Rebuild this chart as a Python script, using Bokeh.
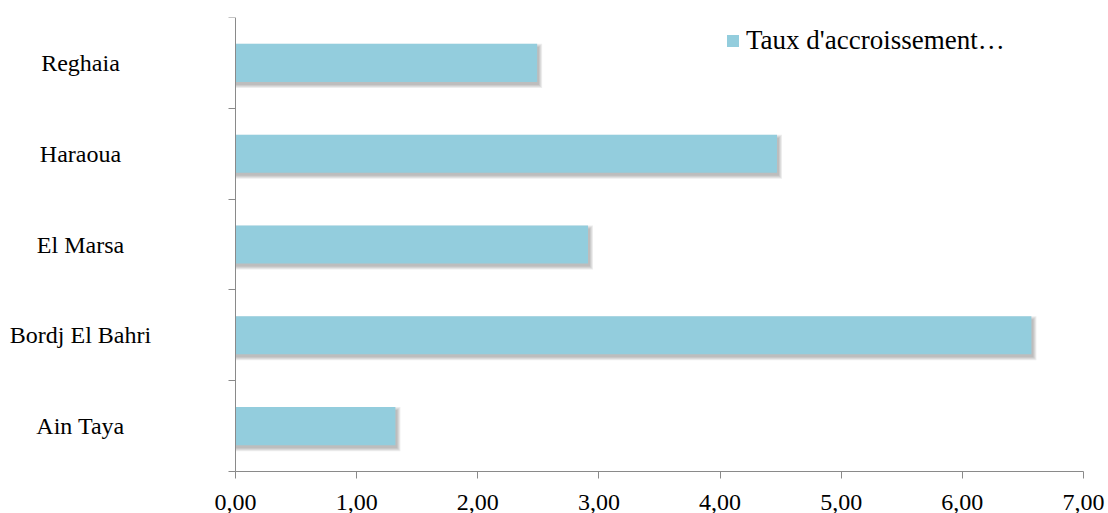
from bokeh.plotting import figure
from bokeh.models import ColumnDataSource, FixedTicker, LinearAxis, Legend, LegendItem, Range1d
from bokeh.transform import dodge
from bokeh.core.properties import value
from bokeh.embed import file_html
from bokeh.resources import INLINE

# Growth rate by commune (bottom to top)
communes = ["Ain Taya", "Bordj El Bahri", "El Marsa", "Haraoua", "Reghaia"]
taux = [1.32, 6.57, 2.91, 4.47, 2.49]
x_ticks = [0, 1, 2, 3, 4, 5, 6, 7]
x_tick_labels = ["0,00", "1,00", "2,00", "3,00", "4,00", "5,00", "6,00", "7,00"]
series_name = "Taux d'accroissement…"

FONT = "Liberation Serif"
AXIS_COLOR = "#8a8a8a"
BAR_COLOR = "#93cddd"
BAR_HEIGHT = 0.42

W, H = 1108, 513
# plot area in pixels: the axes sit inside a frame that fills the canvas,
# leaving room on the left for the centred commune names
AX_LEFT, AX_RIGHT, AX_TOP, AX_BOTTOM = 235, 1083, 17, 471
X_MAX = x_ticks[-1]
n = len(communes)

px = X_MAX / (AX_RIGHT - AX_LEFT)      # data units per pixel, x
py = n / (AX_BOTTOM - AX_TOP)          # data units per pixel, y
x_range = Range1d(-AX_LEFT * px, X_MAX + (W - AX_RIGHT) * px)
y_range = Range1d(-(H - AX_BOTTOM) * py, n)

pos = [i + 0.5 for i in range(n)]
src = ColumnDataSource(dict(commune=communes, taux=taux, pos=pos, zero=[0] * n))

p = figure(width=W, height=H, x_range=x_range, y_range=y_range,
           x_axis_location=None, y_axis_location=None,
           output_backend="svg", toolbar_location=None,
           min_border_left=0, min_border_right=0,
           min_border_top=AX_TOP, min_border_bottom=0)
p.outline_line_color = None
p.grid.visible = False
p.background_fill_color = "white"

# soft drop shadow under each bar
for s in range(1, 5):
    p.hbar(y=dodge("pos", -3 * py, range=p.y_range), left=0,
           right=dodge("taux", (1 + s) * px, range=p.x_range),
           height=BAR_HEIGHT + (2 * s - 2) * py, source=src,
           fill_color="#000000", fill_alpha=0.07, line_color=None)

bars = p.hbar(y="pos", left=0, right="taux", height=BAR_HEIGHT, source=src,
              fill_color=BAR_COLOR, line_color=None)

# x axis along y = 0
xa = LinearAxis(fixed_location=0, bounds=(0, X_MAX))
xa.ticker = FixedTicker(ticks=x_ticks)
xa.major_label_overrides = {t: l for t, l in zip(x_ticks, x_tick_labels)}
xa.axis_line_color = AXIS_COLOR
xa.major_tick_line_color = AXIS_COLOR
xa.major_tick_in = 0
xa.major_tick_out = 7
xa.minor_tick_line_color = None
xa.major_label_text_font = FONT
xa.major_label_text_font_size = "24px"
xa.major_label_text_color = "black"
xa.major_label_standoff = 16
p.add_layout(xa, "below")

# y axis along x = 0: tick marks at band boundaries
ya = LinearAxis(fixed_location=0, bounds=(0, n))
ya.ticker = FixedTicker(ticks=list(range(n + 1)))
ya.major_label_overrides = {t: "" for t in range(n + 1)}
ya.axis_line_color = AXIS_COLOR
ya.major_tick_line_color = AXIS_COLOR
ya.major_tick_in = 0
ya.major_tick_out = 7
ya.minor_tick_line_color = None
p.add_layout(ya, "left")

# commune names, centred in the left margin
p.text(x="zero", y="pos", text="commune", source=src, x_offset=-155,
       text_align="center", text_baseline="middle",
       text_font=value(FONT), text_font_size="24px", text_color="black")

legend = Legend(items=[LegendItem(label=series_name, renderers=[bars])],
                location=(725, 457), padding=0, margin=0, spacing=0,
                glyph_width=15, glyph_height=15, label_standoff=6,
                label_text_font=FONT, label_text_font_size="27px",
                label_text_color="black",
                border_line_color=None, background_fill_alpha=0)
p.add_layout(legend)

open("out.html", "w").write(file_html(p, INLINE))
